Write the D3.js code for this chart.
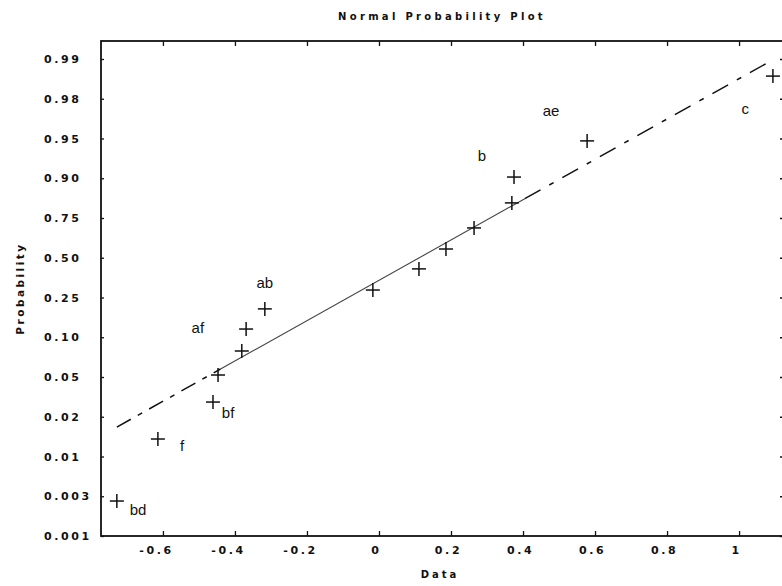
<!DOCTYPE html>
<html>
<head>
<meta charset="utf-8">
<script src="https://cdn.jsdelivr.net/npm/d3@7"></script>
<style>
  body { margin: 0; background: #fff; }
  svg { display: block; }
  .axis text { font-family: "DejaVu Sans", Verdana, sans-serif; font-weight: bold; font-size: 11px; letter-spacing: 2.6px; fill: #111; }
  .axis line { stroke: #111; stroke-width: 1.3px; }
  .lbl { font-family: "Liberation Sans", Arial, sans-serif; font-size: 15px; fill: #111; }
</style>
</head>
<body>
<div id="chart"></div>
<script>
// tick labels on the probability axis (equally spaced in the picture)
let probTicks = [0.001, 0.003, 0.01, 0.02, 0.05, 0.10, 0.25, 0.50, 0.75, 0.90, 0.95, 0.98, 0.99];
let probTickLabels = ["0.001", "0.003", "0.01", "0.02", "0.05", "0.10", "0.25", "0.50", "0.75", "0.90", "0.95", "0.98", "0.99"];
let dataTicks = [-0.6, -0.4, -0.2, 0, 0.2, 0.4, 0.6, 0.8, 1];

// effect estimates and their plotting probabilities
let effectValues = [-0.728, -0.614, -0.461, -0.447, -0.381, -0.369, -0.317, -0.017, 0.111, 0.186, 0.264, 0.369, 0.375, 0.578, 1.094];
let effectProbs  = [0.00276, 0.0144, 0.0311, 0.0525, 0.0827, 0.131, 0.207, 0.297, 0.43, 0.555, 0.6875, 0.807, 0.9015, 0.947, 0.9857];

// names written next to the notable effects
let labelNames  = ["bd", "f", "bf", "af", "ab", "b", "ae", "c"];
let labelValues = [-0.669, -0.547, -0.419, -0.503, -0.317, 0.286, 0.478, 1.017];
let labelProbs  = [0.00231, 0.01264, 0.0228, 0.135, 0.341, 0.928, 0.9707, 0.9722];

// reference line: end points, and the part between the quartiles drawn solid
let fitValues = [-0.728, 1.078];
let fitProbs  = [0.0174, 0.989];
let fitSolid  = [-0.44, 0.405];

let width = 782, height = 586;
let margin = { top: 41, right: -1, bottom: 50, left: 101 };
let plotBottom = height - margin.bottom;
let plotRight = width - margin.right;

let svg = d3.select('#chart')
  .append('svg')
  .attr('width', width)
  .attr('height', height);

let x = d3.scaleLinear()
  .domain([-0.772, 1.122])
  .range([margin.left, plotRight]);

// probability ticks sit at equal steps, values in between are interpolated
let step = 39.75;
let y = d3.scaleLinear()
  .domain(probTicks)
  .range(probTicks.map(function(d, i) { return plotBottom - i * step; }));

// frame
svg.append('rect')
  .attr('x', margin.left)
  .attr('y', margin.top)
  .attr('width', plotRight - margin.left)
  .attr('height', plotBottom - margin.top)
  .attr('fill', 'none')
  .attr('stroke', '#111')
  .attr('stroke-width', 1.8);

// bottom axis, ticks pointing inward
let xAxis = svg.append('g')
  .attr('class', 'axis')
  .attr('transform', 'translate(0,' + plotBottom + ')')
  .call(d3.axisBottom(x).tickValues(dataTicks).tickSize(-5).tickFormat(function(d) { return String(d); }));
xAxis.select('.domain').remove();
xAxis.selectAll('text')
  .attr('y', 18)
  .attr('dy', 0)
  .attr('dx', function(d) { return d < 0 ? -7 : -3; });

// top axis, ticks only
let topAxis = svg.append('g')
  .attr('class', 'axis')
  .attr('transform', 'translate(0,' + margin.top + ')')
  .call(d3.axisTop(x).tickValues(dataTicks).tickSize(-5).tickFormat(''));
topAxis.select('.domain').remove();

// left axis, labels left aligned
let yAxis = svg.append('g')
  .attr('class', 'axis')
  .attr('transform', 'translate(' + margin.left + ',0)')
  .call(d3.axisLeft(y).tickValues(probTicks).tickSize(-3)
    .tickFormat(function(d, i) { return probTickLabels[i]; }));
yAxis.select('.domain').remove();
yAxis.selectAll('text')
  .attr('text-anchor', 'start')
  .attr('x', 44 - margin.left);

// right axis, ticks only
let rightAxis = svg.append('g')
  .attr('class', 'axis')
  .attr('transform', 'translate(' + plotRight + ',0)')
  .call(d3.axisRight(y).tickValues(probTicks).tickSize(-3).tickFormat(''));
rightAxis.select('.domain').remove();

// titles
svg.append('text')
  .attr('x', 442)
  .attr('y', 20)
  .attr('text-anchor', 'middle')
  .style('font-family', '"DejaVu Sans", Verdana, sans-serif')
  .style('font-weight', 'bold')
  .style('font-size', '10px')
  .style('letter-spacing', '3.3px')
  .style('fill', '#111')
  .text('Normal Probability Plot');

svg.append('text')
  .attr('x', 440)
  .attr('y', 578)
  .attr('text-anchor', 'middle')
  .style('font-family', '"DejaVu Sans", Verdana, sans-serif')
  .style('font-weight', 'bold')
  .style('font-size', '10px')
  .style('letter-spacing', '3px')
  .style('fill', '#111')
  .text('Data');

svg.append('text')
  .attr('transform', 'translate(24,' + ((margin.top + plotBottom) / 2) + ') rotate(-90)')
  .attr('text-anchor', 'middle')
  .style('font-family', '"DejaVu Sans", Verdana, sans-serif')
  .style('font-weight', 'bold')
  .style('font-size', '10.5px')
  .style('letter-spacing', '2.5px')
  .style('fill', '#111')
  .text('Probability');

// reference line: straight in the picture, so interpolate in pixels
let fx0 = x(fitValues[0]), fx1 = x(fitValues[1]);
let fy0 = y(fitProbs[0]), fy1 = y(fitProbs[1]);
function fitY(px) { return fy0 + (px - fx0) / (fx1 - fx0) * (fy1 - fy0); }

let sx0 = x(fitSolid[0]), sx1 = x(fitSolid[1]);
let segments = [
  { a: fx0, b: sx0, dash: '16,8,5,8', w: 1.5 },
  { a: sx0, b: sx1, dash: null, w: 1.1 },
  { a: sx1, b: fx1, dash: '18,10,5,10', w: 1.5 }
];

let line = d3.line()
  .x(function(d) { return d; })
  .y(function(d) { return fitY(d); });

svg.selectAll('path.fit')
  .data(segments)
  .enter().append('path')
  .attr('class', 'fit')
  .attr('d', function(d) { return line([d.a, d.b]); })
  .attr('fill', 'none')
  .attr('stroke', function(d) { return d.dash ? '#111' : '#444'; })
  .attr('stroke-width', function(d) { return d.w; })
  .attr('stroke-dasharray', function(d) { return d.dash; });

// cross markers
let arm = 7;
let pts = effectValues.map(function(v, i) { return [v, effectProbs[i]]; });
let marks = svg.selectAll('g.mark')
  .data(pts)
  .enter().append('g')
  .attr('class', 'mark')
  .attr('transform', function(d) { return 'translate(' + x(d[0]) + ',' + y(d[1]) + ')'; });
marks.append('line')
  .attr('x1', -arm).attr('x2', arm)
  .attr('stroke', '#111').attr('stroke-width', 1.5);
marks.append('line')
  .attr('y1', -arm).attr('y2', arm)
  .attr('stroke', '#111').attr('stroke-width', 1.5);

// effect names
svg.selectAll('text.lbl')
  .data(labelNames)
  .enter().append('text')
  .attr('class', 'lbl')
  .attr('x', function(d, i) { return x(labelValues[i]); })
  .attr('y', function(d, i) { return y(labelProbs[i]); })
  .attr('dy', '0.35em')
  .attr('text-anchor', 'middle')
  .text(function(d) { return d; });
</script>
</body>
</html>
